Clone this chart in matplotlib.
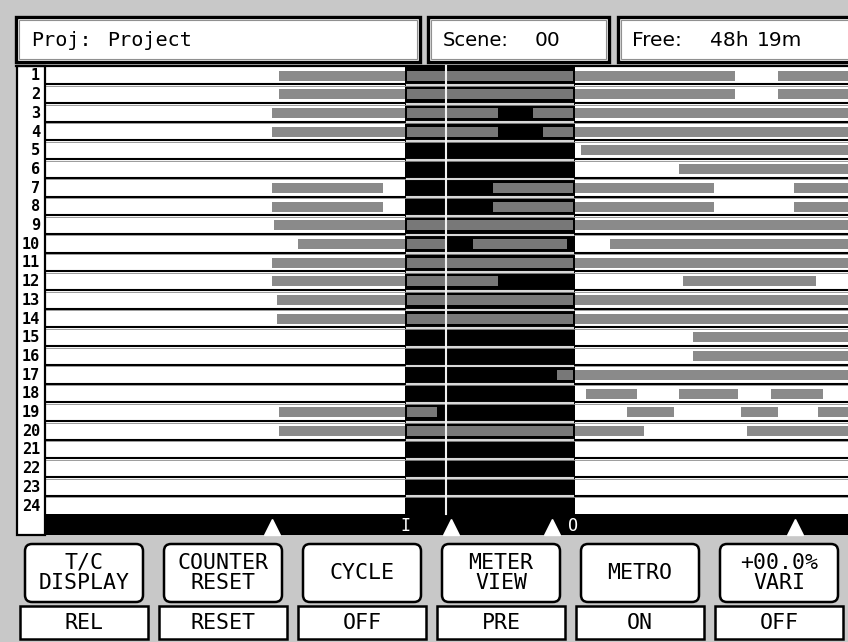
import matplotlib
matplotlib.use('Agg')
import matplotlib.pyplot as plt
from matplotlib.patches import Rectangle, FancyBboxPatch

# ---- data ----
proj_name = "Project"
scene_no = "00"
free_h = "48h"
free_m = "19m"

track_names = [str(i) for i in range(1, 25)]
# regions per track as (start, end) on the timeline
track_regions = [
    [(279, 735), (778, 860)],                           # 1
    [(279, 735), (778, 860)],                           # 2
    [(272, 498), (533, 860)],                           # 3
    [(272, 498), (543, 860)],                           # 4
    [(581, 860)],                                       # 5
    [(679, 860)],                                       # 6
    [(272, 383), (493, 714), (794, 860)],               # 7
    [(272, 383), (493, 714), (794, 860)],               # 8
    [(274, 860)],                                       # 9
    [(298, 446), (473, 567), (610, 860)],               # 10
    [(272, 860)],                                       # 11
    [(272, 498), (683, 816)],                           # 12
    [(277, 860)],                                       # 13
    [(277, 860)],                                       # 14
    [(693, 860)],                                       # 15
    [(693, 860)],                                       # 16
    [(557, 860)],                                       # 17
    [(586, 637), (679, 738), (771, 823)],               # 18
    [(279, 437), (627, 674), (741, 778), (818, 860)],   # 19
    [(279, 644), (747, 860)],                           # 20
    [], [], [], [],                                     # 21-24
]
in_point = 405
out_point = 575
cursor = 446
locators = [272, 451, 552, 795]

button_top = ["T/C\nDISPLAY", "COUNTER\nRESET", "CYCLE", "METER\nVIEW", "METRO", "+00.0%\nVARI"]
button_bottom = ["REL", "RESET", "OFF", "PRE", "ON", "OFF"]

# ---- colours ----
bg = '#c8c8c8'
bar_out = '#8a8a8a'
bar_in = '#787878'

fig = plt.figure(figsize=(8.48, 6.42), dpi=100, facecolor=bg)
ax = fig.add_axes([0, 0, 1, 1])
ax.set_xlim(0, 848)
ax.set_ylim(642, 0)
ax.axis('off')
ax.set_facecolor(bg)

mono = 'DejaVu Sans Mono'

# header boxes
def header_box(x0, x1):
    ax.add_patch(Rectangle((x0, 17), x1 - x0, 45, fc='white', ec='black', lw=2.4, zorder=2))
    ax.add_patch(Rectangle((x0 + 2.8, 19.8), x1 - x0 - 5.6, 39.4, fc='none', ec='#909090', lw=0.8, zorder=2))

header_box(16, 420)
header_box(428, 609)
header_box(618, 860)
ty = 41
ax.text(31, ty, "Proj:", fontsize=14.5, family=mono, va='center', ha='left', zorder=3)
ax.text(107, ty, proj_name, fontsize=14.5, family=mono, va='center', ha='left', zorder=3)
ax.text(443, ty, "Scene:", fontsize=14, va='center', ha='left', zorder=3)
ax.text(535, ty, scene_no, fontsize=14.5, va='center', ha='left', zorder=3)
ax.text(632, ty, "Free:", fontsize=14.5, va='center', ha='left', zorder=3)
ax.text(710, ty, free_h, fontsize=14.5, va='center', ha='left', zorder=3)
ax.text(757, ty, free_m, fontsize=14.5, va='center', ha='left', zorder=3)

# track area
top = 65.6
pitch = 18.7
n = len(track_names)
bottom = top + pitch * n
ax.add_patch(Rectangle((46, top), 810, bottom - top, fc='white', ec='none', zorder=1))
ax.add_patch(Rectangle((17, top), 28, 535 - top, fc='white', ec='black', lw=1.6, zorder=6))
ax.plot([16, 848], [top, top], color='black', lw=1.6, zorder=6)

# regions
for i, regs in enumerate(track_regions):
    y0 = top + pitch * i + 5
    if regs:
        ax.broken_barh([(s, e - s) for s, e in regs], (y0, 10), facecolors=bar_out, zorder=2)
        inside = [(max(s, in_point + 2), min(e, out_point - 2)) for s, e in regs]
        inside = [(s, e - s) for s, e in inside if e > s]
        if inside:
            ax.broken_barh(inside, (y0, 10), facecolors=bar_in, zorder=4)

# selection
ax.add_patch(Rectangle((in_point, top), out_point - in_point, bottom - top, fc='black', ec='none', zorder=3))

# separators
for i in range(1, n):
    y = top + pitch * i
    ax.plot([46, 848], [y, y], color='black', lw=1.5, zorder=5)
    ax.plot([46, 848], [y + 1.6, y + 1.6], color='#8c8c8c', lw=0.6, zorder=5)
    ax.plot([in_point + 2, out_point - 2], [y + 0.8, y + 0.8], color='#d8d8d8', lw=1.5, zorder=5)
ax.plot([cursor, cursor], [top, bottom], color='#f0f0f0', lw=1.5, zorder=7)

# track numbers
for i, name in enumerate(track_names):
    ax.text(40, top + pitch * (i + 0.5) + 1, name, fontsize=11, family=mono,
            fontweight='bold', ha='right', va='center', zorder=7)

# ruler
ax.add_patch(Rectangle((46, bottom), 810, 535 - bottom, fc='black', ec='none', zorder=6))
ax.plot(locators, [527] * len(locators), ls='none', marker='^', ms=11, color='white', zorder=7)
ax.text(in_point, 526, "I", color='white', family=mono, fontsize=12, ha='center', va='center', zorder=7)
ax.text(out_point - 2, 526, "O", color='white', family=mono, fontsize=12, ha='center', va='center', zorder=7)

# soft buttons
for k in range(len(button_top)):
    x = 20 + 139 * k
    ax.add_patch(FancyBboxPatch((x + 5, 544), 118, 58, boxstyle="round,pad=0,rounding_size=7",
                                fc='white', ec='black', lw=1.8, zorder=2))
    ax.add_patch(Rectangle((x, 606), 128, 33, fc='white', ec='black', lw=1.8, zorder=2))
    ax.text(x + 64, 573, button_top[k], family=mono, fontsize=15.5, ha='center', va='center',
            linespacing=1.05, zorder=3)
    ax.text(x + 64, 623, button_bottom[k], family=mono, fontsize=15.5, ha='center', va='center', zorder=3)

fig.savefig('out.png', dpi=100, facecolor=bg)
